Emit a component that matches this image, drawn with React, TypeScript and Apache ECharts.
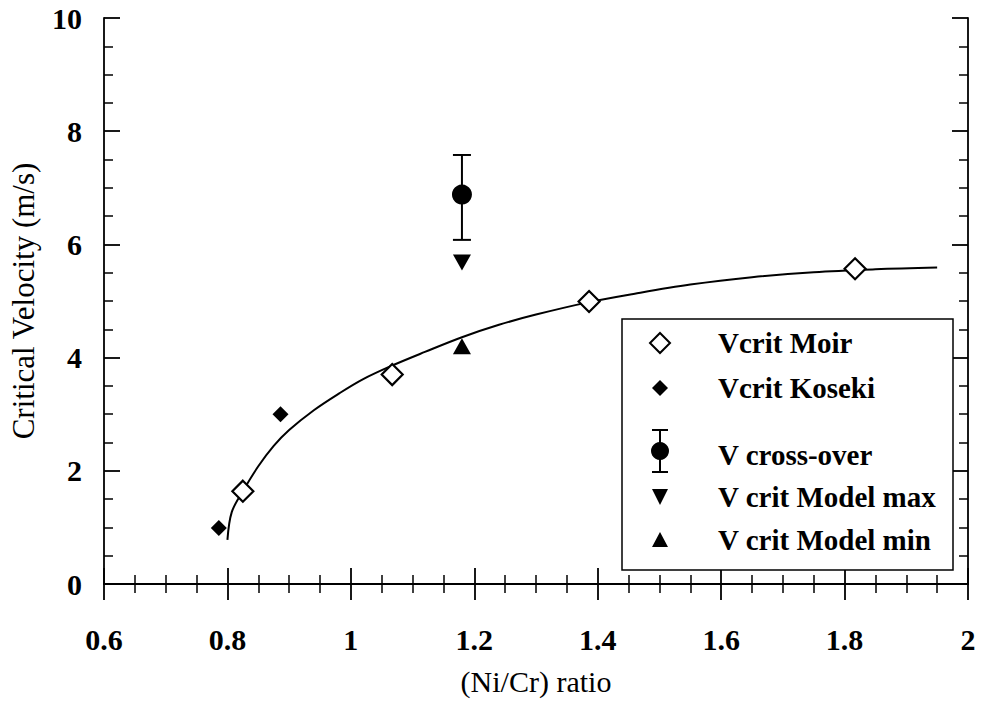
import React, { useEffect, useRef } from "react";
import * as echarts from "echarts";

// ---- data ----
const moirX = [0.825, 1.067, 1.386, 1.817];
const moirY = [1.64, 3.7, 4.99, 5.57];

const kosekiX = [0.786, 0.886];
const kosekiY = [0.99, 3.0];

const crossX = [1.18];
const crossY = [6.88];
const crossLow = [6.08];
const crossHigh = [7.58];

const modelMaxX = [1.18];
const modelMaxY = [5.68];

const modelMinX = [1.18];
const modelMinY = [4.2];

// fitted curve, points
const curveX = [0.8, 0.807, 0.825, 0.85, 0.875, 0.9, 0.94, 0.98, 1.02, 1.067, 1.12, 1.18, 1.24, 1.3, 1.386, 1.46, 1.55, 1.65, 1.75, 1.85, 1.95];
const curveY = [0.78, 1.27, 1.64, 2.08, 2.44, 2.72, 3.07, 3.36, 3.62, 3.86, 4.1, 4.36, 4.58, 4.76, 4.98, 5.13, 5.29, 5.42, 5.51, 5.56, 5.59];

const legendLabels = ["Vcrit Moir", "Vcrit Koseki", "V cross-over", "V crit Model max", "V crit Model min"];

const xTitle = "(Ni/Cr) ratio";
const yTitle = "Critical Velocity (m/s)";

const FONT = "Liberation Serif";

export default function App() {
  const ref = useRef<HTMLDivElement>(null);

  useEffect(() => {
    document.body.style.margin = "0";
    if (!ref.current) return;
    const chart = echarts.init(ref.current, undefined, { renderer: "svg" });

    const zip = (xs: number[], ys: number[]) => xs.map((x, i) => [x, ys[i]]);

    const axisCommon = {
      type: "value" as const,
      axisLine: { show: true, lineStyle: { color: "#000", width: 1.8 } },
      axisTick: { show: true, inside: true, length: 16, lineStyle: { color: "#000", width: 1.8 } },
      minorTick: { show: true, splitNumber: 4, length: 9, lineStyle: { color: "#000", width: 1.5 } },
      splitLine: { show: false },
      minorSplitLine: { show: false },
    };

    const fmt = (v: number) => String(Math.round(v * 10) / 10);

    const lx = 660;
    const rows = [343, 388, 455, 497, 540];

    const legendGraphics: any[] = [
      {
        type: "rect",
        shape: { x: 622, y: 319, width: 331, height: 251 },
        style: { fill: "#fff", stroke: "#000", lineWidth: 1.5 },
        z: 100,
      },
      {
        type: "polygon",
        shape: { points: [[lx, rows[0] - 10], [lx + 10, rows[0]], [lx, rows[0] + 10], [lx - 10, rows[0]]] },
        style: { fill: "#fff", stroke: "#000", lineWidth: 2 },
        z: 101,
      },
      {
        type: "polygon",
        shape: { points: [[lx, rows[1] - 8], [lx + 8, rows[1]], [lx, rows[1] + 8], [lx - 8, rows[1]]] },
        style: { fill: "#000" },
        z: 101,
      },
      {
        type: "line",
        shape: { x1: lx, y1: rows[2] - 25, x2: lx, y2: rows[2] + 17 },
        style: { stroke: "#000", lineWidth: 2 },
        z: 101,
      },
      {
        type: "line",
        shape: { x1: lx - 8, y1: rows[2] - 25, x2: lx + 8, y2: rows[2] - 25 },
        style: { stroke: "#000", lineWidth: 2 },
        z: 101,
      },
      {
        type: "line",
        shape: { x1: lx - 8, y1: rows[2] + 17, x2: lx + 8, y2: rows[2] + 17 },
        style: { stroke: "#000", lineWidth: 2 },
        z: 101,
      },
      {
        type: "circle",
        shape: { cx: lx, cy: rows[2] - 4, r: 9 },
        style: { fill: "#000" },
        z: 101,
      },
      {
        type: "polygon",
        shape: { points: [[lx - 8, rows[3] - 8], [lx + 8, rows[3] - 8], [lx, rows[3] + 8]] },
        style: { fill: "#000" },
        z: 101,
      },
      {
        type: "polygon",
        shape: { points: [[lx - 8, rows[4] + 7], [lx + 8, rows[4] + 7], [lx, rows[4] - 8]] },
        style: { fill: "#000" },
        z: 101,
      },
    ];
    legendLabels.forEach((t, i) => {
      legendGraphics.push({
        type: "text",
        x: 718,
        y: rows[i],
        style: {
          text: t,
          fontFamily: FONT,
          fontSize: 29,
          fontWeight: "bold",
          fill: "#000",
          verticalAlign: "middle",
        },
        z: 101,
      });
    });

    chart.setOption({
      animation: false,
      backgroundColor: "#fff",
      textStyle: { fontFamily: FONT },
      grid: { left: 102, right: 14, top: 18, bottom: 116, containLabel: false },
      xAxis: [
        {
          ...axisCommon,
          position: "bottom",
          min: 0.6,
          max: 2,
          interval: 0.2,
          name: xTitle,
          nameLocation: "middle",
          nameGap: 82,
          nameTextStyle: { fontFamily: FONT, fontSize: 30, color: "#000" },
          axisLabel: {
            show: true,
            margin: 40,
            formatter: fmt,
            fontFamily: FONT,
            fontWeight: "bold",
            fontSize: 30,
            color: "#000",
          },
        },
        {
          ...axisCommon,
          position: "top",
          min: 0.6,
          max: 2,
          interval: 0.2,
          axisLabel: { show: false },
        },
      ],
      yAxis: [
        {
          ...axisCommon,
          position: "left",
          min: 0,
          max: 10,
          interval: 2,
          name: yTitle,
          nameLocation: "middle",
          nameGap: 65,
          nameRotate: 90,
          nameTextStyle: { fontFamily: FONT, fontSize: 31, color: "#000" },
          axisLabel: {
            show: true,
            margin: 22,
            fontFamily: FONT,
            fontWeight: "bold",
            fontSize: 30,
            color: "#000",
          },
        },
        {
          ...axisCommon,
          position: "right",
          min: 0,
          max: 10,
          interval: 2,
          axisLabel: { show: false },
        },
      ],
      series: [
        {
          type: "line",
          name: "fit",
          data: zip(curveX, curveY),
          smooth: 0.35,
          showSymbol: false,
          symbol: "none",
          lineStyle: { color: "#000", width: 2 },
          z: 2,
        },
        {
          type: "scatter",
          name: legendLabels[0],
          data: zip(moirX, moirY),
          symbol: "diamond",
          symbolSize: 21,
          itemStyle: { color: "#fff", borderColor: "#000", borderWidth: 2.2, opacity: 1 },
          z: 5,
        },
        {
          type: "scatter",
          name: legendLabels[1],
          data: zip(kosekiX, kosekiY),
          symbol: "diamond",
          symbolSize: 16,
          itemStyle: { color: "#000", opacity: 1 },
          z: 5,
        },
        {
          type: "custom",
          name: "errorbar",
          data: crossX.map((x, i) => [x, crossLow[i], crossHigh[i]]),
          encode: { x: 0, y: [1, 2] },
          renderItem: (_params: any, api: any) => {
            const x = api.value(0);
            const lo = api.coord([x, api.value(1)]);
            const hi = api.coord([x, api.value(2)]);
            const hw = 9;
            const st = { stroke: "#000", lineWidth: 2 };
            return {
              type: "group",
              children: [
                { type: "line", shape: { x1: lo[0], y1: lo[1], x2: hi[0], y2: hi[1] }, style: st },
                { type: "line", shape: { x1: lo[0] - hw, y1: lo[1], x2: lo[0] + hw, y2: lo[1] }, style: st },
                { type: "line", shape: { x1: hi[0] - hw, y1: hi[1], x2: hi[0] + hw, y2: hi[1] }, style: st },
              ],
            };
          },
          z: 4,
        },
        {
          type: "scatter",
          name: legendLabels[2],
          data: zip(crossX, crossY),
          symbol: "circle",
          symbolSize: 20,
          itemStyle: { color: "#000", opacity: 1 },
          z: 5,
        },
        {
          type: "scatter",
          name: legendLabels[3],
          data: zip(modelMaxX, modelMaxY),
          symbol: "triangle",
          symbolRotate: 180,
          symbolSize: [18, 16],
          itemStyle: { color: "#000", opacity: 1 },
          z: 5,
        },
        {
          type: "scatter",
          name: legendLabels[4],
          data: zip(modelMinX, modelMinY),
          symbol: "triangle",
          symbolSize: [18, 16],
          itemStyle: { color: "#000", opacity: 1 },
          z: 5,
        },
      ],
      graphic: legendGraphics,
    });

    return () => chart.dispose();
  }, []);

  return <div ref={ref} style={{ width: 982, height: 701 }} />;
}
